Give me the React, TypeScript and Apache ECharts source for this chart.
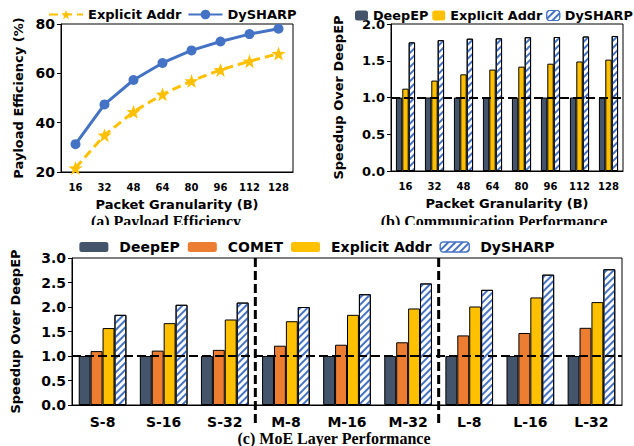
import React, { useEffect, useRef } from 'react';
import * as echarts from 'echarts';

// ---- data ----
const granularity = ['16', '32', '48', '64', '80', '96', '112', '128'];
const payloadExplicit = [21.6, 34.9, 44.4, 51.5, 56.9, 61.4, 64.9, 68.0];
const payloadDySHARP = [31.3, 47.4, 57.3, 64.2, 69.3, 72.9, 75.9, 78.1];

const commDeepEP = [1, 1, 1, 1, 1, 1, 1, 1];
const commExplicit = [1.12, 1.23, 1.315, 1.38, 1.42, 1.46, 1.49, 1.515];
const commDySHARP = [1.75, 1.78, 1.8, 1.805, 1.82, 1.823, 1.83, 1.837];

const moeCategories = ['S-8', 'S-16', 'S-32', 'M-8', 'M-16', 'M-32', 'L-8', 'L-16', 'L-32'];
const moeDeepEP = [1, 1, 1, 1, 1, 1, 1, 1, 1];
const moeCOMET = [1.1, 1.11, 1.125, 1.21, 1.23, 1.28, 1.42, 1.47, 1.575];
const moeExplicit = [1.57, 1.67, 1.745, 1.71, 1.84, 1.97, 2.01, 2.195, 2.1];
const moeDySHARP = [1.84, 2.045, 2.09, 2.0, 2.26, 2.48, 2.35, 2.66, 2.77];
const separatorPairs = [['S-32', 'M-8'], ['M-32', 'L-8']];

// ---- style ----
const FONT = '"DejaVu Sans", sans-serif';
const SERIF = '"Liberation Serif", "DejaVu Serif", serif';
const YELLOW = '#FFC000';
const BLUE = '#4472C4';
const DARK = '#44546A';
const ORANGE = '#ED7D31';
const STAR =
  'path://M0,-10 L2.35,-3.24 L9.51,-3.09 L3.8,1.24 L5.88,8.09 L0,4 L-5.88,8.09 L-3.8,1.24 L-9.51,-3.09 L-2.35,-3.24 Z';

const hatch = {
  symbol: 'rect',
  symbolSize: 1,
  dashArrayX: [1, 0],
  dashArrayY: [2, 3],
  rotation: -Math.PI / 4,
  color: BLUE,
};

const bold = (size: number) => ({ fontSize: size, fontWeight: 'bold', color: '#000', fontFamily: FONT });

const xCat = (data: string[], labelSize: number, name?: string, margin = 8) => ({
  type: 'category',
  data,
  boundaryGap: true,
  axisLine: { lineStyle: { color: '#000', width: 1 } },
  axisTick: { alignWithLabel: true, length: 4, lineStyle: { color: '#000' } },
  axisLabel: { ...bold(labelSize), margin },
  name,
  nameLocation: 'middle',
  nameGap: 26,
  nameTextStyle: bold(13),
});

const yVal = (min: number, max: number, interval: number, labelSize: number, name: string, nameGap: number, fmt?: (v: number) => string) => ({
  type: 'value',
  min,
  max,
  interval,
  splitLine: { show: false },
  axisLine: { show: true, lineStyle: { color: '#000', width: 1 } },
  axisTick: { show: true, length: 4, lineStyle: { color: '#000' } },
  axisLabel: { ...bold(labelSize), margin: 6, formatter: fmt },
  name,
  nameLocation: 'middle',
  nameGap,
  nameTextStyle: bold(13),
});

const caption = (text: string, x: number, y: number) => ({
  type: 'text',
  x,
  y,
  style: { text, font: `bold 16px ${SERIF}`, fill: '#000', align: 'center', verticalAlign: 'middle' },
});

const refLine = {
  silent: true,
  symbol: 'none',
  label: { show: false },
  lineStyle: { color: '#000', type: [9, 4], width: 2 },
  data: [{ yAxis: 1 }],
};

const optA = {
  animation: false,
  textStyle: { fontFamily: FONT },
  legend: {
    left: 43,
    top: 3,
    itemWidth: 34,
    itemHeight: 12,
    itemGap: 6,
    textStyle: bold(13),
    data: ['Explicit Addr', 'DySHARP'],
  },
  grid: { left: 61, right: 27, top: 24, bottom: 53, show: true, borderColor: '#000', borderWidth: 1 },
  xAxis: xCat(granularity, 10, 'Packet Granularity (B)', 10),
  yAxis: yVal(20, 80, 20, 14, 'Payload Efficiency (%)', 36),
  series: [
    {
      name: 'Explicit Addr',
      type: 'line',
      data: payloadExplicit,
      symbol: STAR,
      symbolSize: 14,
      itemStyle: { color: YELLOW },
      lineStyle: { color: YELLOW, width: 3, type: [9, 5] },
    },
    {
      name: 'DySHARP',
      type: 'line',
      data: payloadDySHARP,
      symbol: 'circle',
      symbolSize: 10,
      itemStyle: { color: BLUE },
      lineStyle: { color: BLUE, width: 3 },
    },
  ],
  graphic: [caption('(a) Payload Efficiency', 166, 221.5)],
};

const barBase = { type: 'bar', barGap: '0%', itemStyle: { borderColor: '#000', borderWidth: 1 } };

const optB = {
  animation: false,
  textStyle: { fontFamily: FONT },
  legend: {
    left: 30,
    top: 4,
    width: 320,
    itemWidth: 13,
    itemHeight: 10,
    itemGap: 4,
    textStyle: bold(12.8),
    itemStyle: { borderWidth: 0 },
    data: ['DeepEP', 'Explicit Addr', { name: 'DySHARP', itemStyle: { borderColor: BLUE, borderWidth: 1 } }],
  },
  grid: { left: 71, right: 11, top: 24, bottom: 54, show: true, borderColor: '#000', borderWidth: 1 },
  xAxis: xCat(granularity, 10, 'Packet Granularity (B)', 10),
  yAxis: yVal(0, 2, 0.5, 13, 'Speedup Over DeepEP', 46, (v: number) => v.toFixed(1)),
  series: [
    { ...barBase, name: 'DeepEP', data: commDeepEP, barWidth: '22%', itemStyle: { ...barBase.itemStyle, color: DARK } },
    { ...barBase, name: 'Explicit Addr', data: commExplicit, barWidth: '22%', itemStyle: { ...barBase.itemStyle, color: YELLOW } },
    {
      ...barBase,
      name: 'DySHARP',
      data: commDySHARP,
      barWidth: '22%',
      itemStyle: { ...barBase.itemStyle, color: '#fff', decal: hatch },
      markLine: refLine,
    },
  ],
  graphic: [caption('(b) Communication Performance', 174, 221.5)],
};

const captionC = caption('(c) MoE Layer Performance', 334, 213);

const optC = {
  animation: false,
  textStyle: { fontFamily: FONT },
  legend: {
    left: 'center',
    top: 10,
    itemWidth: 29,
    itemHeight: 10,
    itemGap: 8,
    textStyle: { ...bold(14), padding: [0, 0, 0, 6] },
    itemStyle: { borderWidth: 0 },
    data: ['DeepEP', 'COMET', 'Explicit Addr', { name: 'DySHARP', itemStyle: { borderColor: BLUE, borderWidth: 1 } }],
  },
  grid: { left: 72, right: 12, top: 33, bottom: 41, show: true, borderColor: '#000', borderWidth: 1 },
  xAxis: { ...xCat(moeCategories, 14, undefined, 10), name: undefined },
  yAxis: yVal(0, 3, 0.5, 14, 'Speedup Over DeepEP', 50, (v: number) => v.toFixed(1)),
  series: [
    { ...barBase, name: 'DeepEP', data: moeDeepEP, barWidth: '19.5%', itemStyle: { ...barBase.itemStyle, color: DARK } },
    { ...barBase, name: 'COMET', data: moeCOMET, barWidth: '19.5%', itemStyle: { ...barBase.itemStyle, color: ORANGE } },
    { ...barBase, name: 'Explicit Addr', data: moeExplicit, barWidth: '19.5%', itemStyle: { ...barBase.itemStyle, color: YELLOW } },
    {
      ...barBase,
      name: 'DySHARP',
      data: moeDySHARP,
      barWidth: '19.5%',
      itemStyle: { ...barBase.itemStyle, color: '#fff', decal: hatch },
      markLine: refLine,
    },
  ],
  graphic: [captionC],
};

function addSeparators(chart: any) {
  const yTop = chart.convertToPixel({ yAxisIndex: 0 }, 3);
  const yBottom = chart.convertToPixel({ yAxisIndex: 0 }, 0);
  const lines = separatorPairs.map(([a, b]) => {
    const xa = chart.convertToPixel({ xAxisIndex: 0 }, a);
    const xb = chart.convertToPixel({ xAxisIndex: 0 }, b);
    const x = (xa + xb) / 2;
    return {
      type: 'line',
      silent: true,
      z: 100,
      shape: { x1: x, y1: yTop, x2: x, y2: yBottom + 22 },
      style: { stroke: '#000', lineWidth: 3, lineDash: [9, 4] },
    };
  });
  chart.setOption({ graphic: [captionC, ...lines] });
}

function EChart({ option, style, onReady }: { option: any; style: any; onReady?: (c: any) => void }) {
  const ref = useRef<HTMLDivElement>(null);
  useEffect(() => {
    const chart = echarts.init(ref.current as HTMLDivElement, null, { renderer: 'svg' });
    chart.setOption(option);
    if (onReady) onReady(chart);
    return () => chart.dispose();
  }, []);
  return <div ref={ref} style={{ position: 'absolute', ...style }} />;
}

export default function App() {
  return (
    <div style={{ position: 'absolute', left: 0, top: 0, width: 634, height: 446, background: '#fff', overflow: 'hidden' }}>
      <EChart option={optA} style={{ left: 0, top: 0, width: 320, height: 225 }} />
      <EChart option={optB} style={{ left: 320, top: 0, width: 314, height: 225 }} />
      <EChart option={optC} style={{ left: 0, top: 225, width: 634, height: 221 }} onReady={addSeparators} />
    </div>
  );
}
